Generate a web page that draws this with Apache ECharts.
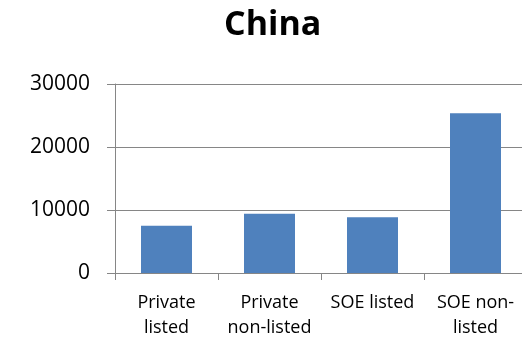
<!DOCTYPE html>
<html><head><meta charset="utf-8">
<script src="https://cdn.jsdelivr.net/npm/echarts@6/dist/echarts.min.js"></script>
<style>html,body{margin:0;padding:0;background:#fff}#c{width:522px;height:337px}</style>
</head><body><div id="c"></div>
<script>
var categories = ["Private\nlisted", "Private\nnon-listed", "SOE listed", "SOE non-\nlisted"];
var values = [7500, 9400, 8850, 25350];
var yTicks = [0, 10000, 20000, 30000];
var title = "China";

var chart = echarts.init(document.getElementById('c'));
chart.setOption({
  animation: false,
  title: {
    text: title, left: 219, top: 3,
    textStyle: {fontFamily: 'Open Sans', fontSize: 34, fontWeight: 'bold', color: '#000'}
  },
  grid: {left: 115, width: 412, top: 84, bottom: 64, containLabel: false, outerBoundsMode: 'none'},
  xAxis: {
    type: 'category', data: categories,
    axisLine: {lineStyle: {color: '#868686', width: 1}},
    axisTick: {show: true, length: 7, alignWithLabel: false, lineStyle: {color: '#868686'}},
    axisLabel: {margin: 17, fontFamily: 'Open Sans', fontSize: 18, lineHeight: 25, color: '#000', interval: 0}
  },
  yAxis: {
    type: 'value', min: yTicks[0], max: yTicks[yTicks.length - 1], interval: 10000,
    axisLine: {show: true, lineStyle: {color: '#868686', width: 1}},
    axisTick: {show: true, length: 8, lineStyle: {color: '#868686'}},
    splitLine: {show: true, lineStyle: {color: '#868686', width: 1}},
    axisLabel: {margin: 25, fontFamily: 'Open Sans', fontSize: 21, color: '#000',
      formatter: function (v) { return String(v); }}
  },
  series: [{
    type: 'bar', data: values, barWidth: 51,
    itemStyle: {color: '#4F81BD'}
  }]
});
</script></body></html>
